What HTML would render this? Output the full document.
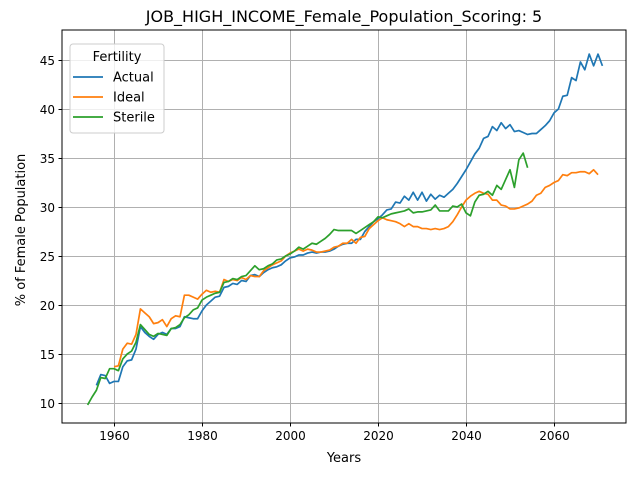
<!DOCTYPE html>
<html><head><meta charset="utf-8"><style>
body{margin:0;background:#fff}
text{font-family:"DejaVu Sans","Liberation Sans",sans-serif;fill:#000}
</style></head><body>
<svg id="chart" width="640" height="480" xmlns="http://www.w3.org/2000/svg">
<rect width="640" height="480" fill="#fff"/>
<g id="grid"></g>
<g id="series"></g>
<rect x="62" y="30" width="564" height="393" fill="none" stroke="#000" stroke-width="1" shape-rendering="crispEdges"/>
<g id="ticks"></g>
<text x="344" y="22" font-size="16" text-anchor="middle">JOB_HIGH_INCOME_Female_Population_Scoring: 5</text>
<text x="344" y="462" font-size="13" text-anchor="middle">Years</text>
<text x="25" y="230" font-size="13" text-anchor="middle" transform="rotate(-90 25 230)">% of Female Population</text>
<g>
<rect x="70" y="44" width="94" height="89" rx="3" fill="#fff" fill-opacity="0.8" stroke="#ccc"/>
<text x="117" y="61" font-size="13" text-anchor="middle">Fertility</text>
<g id="legend-items"></g>
</g>
</svg>
<script>
const actualStart = 1956;
const actualValues = [11.8,12.9,12.8,12.0,12.2,12.2,13.7,14.3,14.4,15.5,17.8,17.2,16.8,16.5,17.0,17.2,17.0,17.6,17.6,17.8,18.8,18.7,18.6,18.6,19.4,20.0,20.4,20.8,20.9,21.8,21.9,22.2,22.1,22.5,22.4,23.0,23.1,22.9,23.3,23.6,23.8,23.9,24.1,24.5,24.8,24.9,25.1,25.1,25.3,25.4,25.3,25.4,25.4,25.5,25.7,26.0,26.2,26.3,26.3,26.7,26.7,27.5,28.0,28.5,28.8,29.2,29.7,29.8,30.5,30.4,31.1,30.7,31.5,30.7,31.5,30.6,31.3,30.8,31.2,31.0,31.4,31.8,32.4,33.1,33.8,34.6,35.4,36.0,37.0,37.2,38.2,37.8,38.6,38.0,38.4,37.7,37.8,37.6,37.4,37.5,37.5,37.9,38.3,38.8,39.6,40.0,41.3,41.4,43.2,42.9,44.8,44.0,45.6,44.4,45.6,44.4];
const idealStart = 1960;
const idealValues = [13.7,13.8,15.5,16.1,16.0,17.0,19.6,19.2,18.8,18.1,18.2,18.5,17.8,18.6,18.9,18.8,21.0,21.0,20.8,20.6,21.1,21.5,21.3,21.4,21.3,22.6,22.4,22.6,22.5,22.8,22.6,23.0,22.9,22.9,23.5,23.8,24.1,24.3,24.5,25.0,25.3,25.5,25.7,25.5,25.7,25.6,25.4,25.4,25.5,25.6,25.9,26.0,26.3,26.3,26.7,26.3,26.9,27.0,27.8,28.2,28.6,28.9,28.7,28.6,28.5,28.3,28.0,28.3,28.0,28.0,27.8,27.8,27.7,27.8,27.7,27.8,28.0,28.5,29.2,30.0,30.7,31.1,31.4,31.6,31.4,31.3,30.7,30.7,30.2,30.1,29.8,29.8,29.9,30.1,30.3,30.6,31.2,31.4,32.0,32.2,32.5,32.7,33.3,33.2,33.5,33.5,33.6,33.6,33.4,33.8,33.3];
const sterileStart = 1954;
const sterileValues = [9.8,10.6,11.3,12.6,12.5,13.5,13.5,13.3,14.5,15.0,15.3,16.2,18.0,17.5,17.0,16.8,17.1,17.0,16.9,17.6,17.7,18.0,18.7,19.0,19.5,19.7,20.5,20.8,21.0,21.2,21.3,22.3,22.4,22.7,22.6,22.9,23.0,23.5,24.0,23.6,23.7,24.0,24.2,24.6,24.7,25.0,25.2,25.5,25.9,25.7,26.0,26.3,26.2,26.5,26.8,27.2,27.7,27.6,27.6,27.6,27.6,27.3,27.6,27.9,28.2,28.5,29.0,28.9,29.1,29.3,29.4,29.5,29.6,29.8,29.4,29.5,29.5,29.6,29.7,30.2,29.6,29.6,29.6,30.1,30.0,30.3,29.4,29.1,30.5,31.2,31.3,31.6,31.2,32.2,31.8,32.8,33.8,32.0,34.8,35.5,34.0];
const xTicks = [1960,1980,2000,2020,2040,2060];
const yTicks = [10,15,20,25,30,35,40,45];
const seriesNames = ["Actual","Ideal","Sterile"];

const NS="http://www.w3.org/2000/svg";
const X0=62,X1=626,Y0=30,Y1=423, xmin=1948.18,xmax=2076.36, ymin=7.96,ymax=48.06;
const xs=v=>X0+(v-xmin)/(xmax-xmin)*(X1-X0);
const ys=v=>Y1-(v-ymin)/(ymax-ymin)*(Y1-Y0);
function mk(tag,attrs,parent){const e=document.createElementNS(NS,tag);for(const k in attrs)e.setAttribute(k,attrs[k]);parent.appendChild(e);return e;}
const grid=document.getElementById('grid'),ticks=document.getElementById('ticks'),ser=document.getElementById('series');
xTicks.forEach(t=>{const x=Math.round(xs(t))+0.5;
 const g=mk('line',{x1:x,x2:x,y1:Y0,y2:Y1,stroke:'#b0b0b0','stroke-width':1},grid);
 
 
 mk('line',{x1:x,x2:x,y1:Y1,y2:Y1+3.5,stroke:'#000','stroke-width':1},ticks);
 const l=mk('text',{x:x,y:Y1+17,'font-size':12,'text-anchor':'middle'},ticks);l.textContent=t;
 
 
});
yTicks.forEach(t=>{const y=Math.round(ys(t))+0.5;
 const g=mk('line',{x1:X0,x2:X1,y1:y,y2:y,stroke:'#b0b0b0','stroke-width':1},grid);
 
 
 mk('line',{x1:X0-3.5,x2:X0,y1:y,y2:y,stroke:'#000','stroke-width':1},ticks);
 const l=mk('text',{x:X0-7,y:y+4.5,'font-size':12,'text-anchor':'end'},ticks);l.textContent=t;
 
 
});
const colors=['#1f77b4','#ff7f0e','#2ca02c'];
[[actualStart,actualValues],[idealStart,idealValues],[sterileStart,sterileValues]].forEach((s,i)=>{
 const pts=s[1].map((v,j)=>xs(s[0]+j).toFixed(2)+','+ys(v).toFixed(2)).join(' ');
 const p=mk('polyline',{points:pts,fill:'none',stroke:colors[i],'stroke-width':1.7,'stroke-linejoin':'round'},ser);
 
 
 const li=document.getElementById('legend-items');
 const y=77+i*20;
 const ll=mk('line',{x1:73,x2:103,y1:y,y2:y,stroke:colors[i],'stroke-width':1.7},li);
 
 
 const lt=mk('text',{x:113,y:y+4.5,'font-size':13},li);lt.textContent=seriesNames[i];
 
 
});
</script>
</body></html>
